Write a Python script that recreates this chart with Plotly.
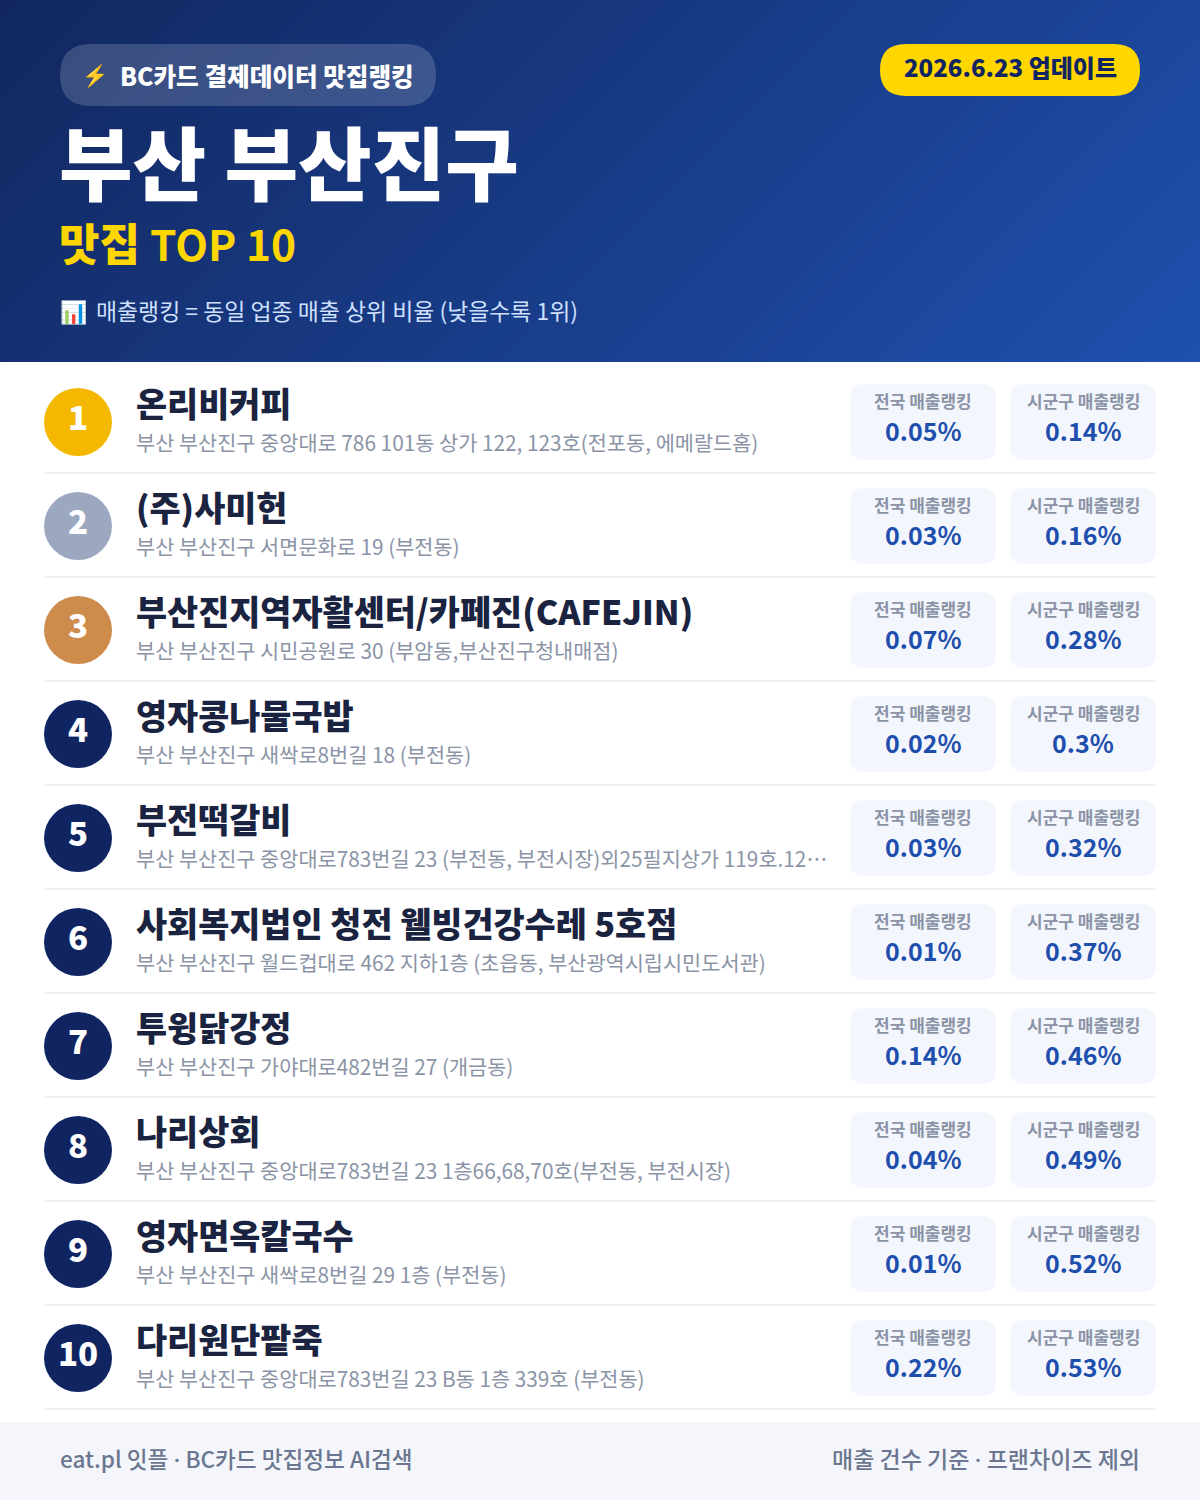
"""
BC card restaurant ranking card, Busan Busanjin-gu top 10
"""
import plotly.graph_objects as go

FONT = "Noto Sans CJK KR"

# chart data
ranks = ["1", "2", "3", "4", "5", "6", "7", "8", "9", "10"]
names = [
    "온리비커피",
    "(주)사미헌",
    "부산진지역자활센터/카페진(CAFEJIN)",
    "영자콩나물국밥",
    "부전떡갈비",
    "사회복지법인 청전 웰빙건강수레 5호점",
    "투윙닭강정",
    "나리상회",
    "영자면옥칼국수",
    "다리원단팥죽",
]
addresses = [
    "부산 부산진구 중앙대로 786 101동 상가 122, 123호(전포동, 에메랄드홈)",
    "부산 부산진구 서면문화로 19 (부전동)",
    "부산 부산진구 시민공원로 30 (부암동,부산진구청내매점)",
    "부산 부산진구 새싹로8번길 18 (부전동)",
    "부산 부산진구 중앙대로783번길 23 (부전동, 부전시장)외25필지상가 119호.12…",
    "부산 부산진구 월드컵대로 462 지하1층 (초읍동, 부산광역시립시민도서관)",
    "부산 부산진구 가야대로482번길 27 (개금동)",
    "부산 부산진구 중앙대로783번길 23 1층66,68,70호(부전동, 부전시장)",
    "부산 부산진구 새싹로8번길 29 1층 (부전동)",
    "부산 부산진구 중앙대로783번길 23 B동 1층 339호 (부전동)",
]
national_rank = ["0.05%", "0.03%", "0.07%", "0.02%", "0.03%", "0.01%", "0.14%", "0.04%", "0.01%", "0.22%"]
district_rank = ["0.14%", "0.16%", "0.28%", "0.3%", "0.32%", "0.37%", "0.46%", "0.49%", "0.52%", "0.53%"]

NATIONAL_LABEL = "전국 매출랭킹"
DISTRICT_LABEL = "시군구 매출랭킹"
DOT = '<span style="font-family:Inter">·</span>'

NAVY = "#0f2460"
medal_colors = ["#f4b800", "#9ba8bf", "#cd8c4c"]


def round_rect(x0, y0, x1, y1, r):
    return (
        f"M {x0 + r} {y0} L {x1 - r} {y0} Q {x1} {y0} {x1} {y0 + r} "
        f"L {x1} {y1 - r} Q {x1} {y1} {x1 - r} {y1} "
        f"L {x0 + r} {y1} Q {x0} {y1} {x0} {y1 - r} "
        f"L {x0} {y0 + r} Q {x0} {y0} {x0 + r} {y0} Z"
    )


def add_box(fig, x0, y0, x1, y1, r, color):
    fig.add_shape(type="path", path=round_rect(x0, y0, x1, y1, r),
                  fillcolor=color, line_width=0, xref="x", yref="y")


def add_text(fig, x, y, text, size, color, weight=400, anchor="left"):
    fig.add_annotation(
        x=x, y=y, xref="x", yref="y", text=text, showarrow=False,
        xanchor=anchor, yanchor="middle", borderpad=0,
        font=dict(family=FONT, size=size, color=color, weight=weight),
    )


fig = go.Figure()

# invisible trace keeps the full page axes alive
fig.add_trace(go.Scatter(x=[], y=[], xaxis="x", yaxis="y", showlegend=False))

# header gradient, diagonal
fig.add_trace(go.Heatmap(
    x=[0, 1200], y=[0, 362],
    z=[[0, 0.768], [0.232, 1]],
    colorscale=[[0, "#12275f"], [1, "#1e50ae"]],
    zsmooth="best", showscale=False, hoverinfo="skip",
    xaxis="x2", yaxis="y2",
))

# header
add_box(fig, 60, 44, 436, 106, 31, "rgba(255,255,255,0.17)")
add_text(fig, 81, 74, "⚡", 21, "#ffd600")
add_text(fig, 119, 75, "BC카드 결제데이터 맛집랭킹", 24.6, "#ffffff", 800)
add_box(fig, 880, 44, 1140, 96, 26, "#ffd600")
add_text(fig, 1010, 66, "2026.6.23 업데이트", 24, NAVY, 800, "center")
add_text(fig, 58, 159, "부산 부산진구", 80, "#ffffff", 800)
add_text(fig, 58, 242, '맛집 <span style="font-size:42.5px;font-weight:700">TOP 10</span>',
         44, "#ffd600", 800)
add_text(fig, 59, 310, "📊", 22, "#ffffff")
add_text(fig, 95, 310, "매출랭킹 = 동일 업종 매출 상위 비율 (낮을수록 1위)", 22.9, "#cfe0ff")

# rows
for i, rank in enumerate(ranks):
    top = 104 * i
    circle = medal_colors[i] if i < len(medal_colors) else NAVY
    fig.add_shape(type="circle", x0=44, x1=112, y0=388 + top, y1=456 + top,
                  fillcolor=circle, line_width=0, xref="x", yref="y")
    add_text(fig, 78, 416 + top, rank, 33, "#ffffff", 800, "center")
    add_text(fig, 135, 402 + top, names[i], 33.8, "#1a2340", 800)
    add_text(fig, 135, 442 + top, addresses[i], 20.8, "#8a94a6")

    add_box(fig, 850, 384 + top, 996, 460 + top, 14, "#f3f6fc")
    add_box(fig, 1010, 384 + top, 1156, 460 + top, 14, "#f3f6fc")
    add_text(fig, 923, 400 + top, NATIONAL_LABEL, 17, "#8a94a6", 700, "center")
    add_text(fig, 1083, 400 + top, DISTRICT_LABEL, 17, "#8a94a6", 700, "center")
    add_text(fig, 923, 430 + top, national_rank[i], 25, "#1e4fad", 700, "center")
    add_text(fig, 1083, 430 + top, district_rank[i], 25, "#1e4fad", 700, "center")

    fig.add_shape(type="line", x0=44, x1=1156, y0=473 + top, y1=473 + top,
                  line=dict(color="#eef0f4", width=2), xref="x", yref="y")

# footer
fig.add_shape(type="rect", x0=0, x1=1200, y0=1422, y1=1500,
              fillcolor="#f4f6fb", line_width=0, xref="x", yref="y")
add_text(fig, 59, 1458, f"eat.pl 잇플 {DOT} BC카드 맛집정보 AI검색", 22.6, "#6b7690", 500)
add_text(fig, 1141, 1458, f"매출 건수 기준 {DOT} 프랜차이즈 제외", 23, "#6b7690", 500, "right")

hidden = dict(visible=False, fixedrange=True)
fig.update_layout(
    width=1200, height=1500,
    margin=dict(l=0, r=0, t=0, b=0),
    paper_bgcolor="#ffffff", plot_bgcolor="rgba(0,0,0,0)",
    showlegend=False,
    xaxis=dict(range=[0, 1200], domain=[0, 1], **hidden),
    yaxis=dict(range=[1500, 0], domain=[0, 1], **hidden),
    xaxis2=dict(range=[0, 1200], domain=[0, 1], anchor="y2", **hidden),
    yaxis2=dict(range=[362, 0], domain=[1 - 362 / 1500, 1], anchor="x2", **hidden),
)

fig.write_html("out.html", config={"displayModeBar": False},
               post_script="document.body.style.margin='0';")
